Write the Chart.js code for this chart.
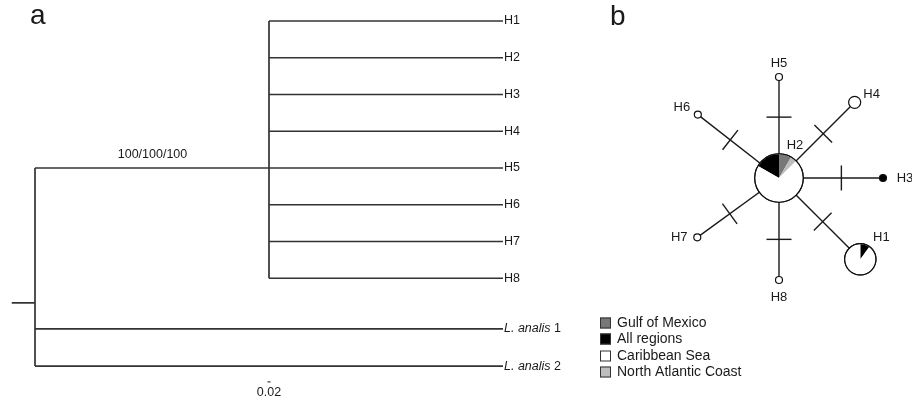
<!DOCTYPE html>
<html>
<head>
<meta charset="utf-8">
<script src="https://cdn.jsdelivr.net/npm/chart.js@4.4.1/dist/chart.umd.min.js"></script>
<style>
  html, body { margin: 0; padding: 0; background: #fff; }
  #wrap { width: 912px; height: 404px; }
</style>
</head>
<body>
<div id="wrap"><canvas id="fig" width="912" height="404"></canvas></div>
<script>
// ---- panel a: tree ----
const ingroupTips = ["H1", "H2", "H3", "H4", "H5", "H6", "H7", "H8"];
const outgroupTips = ["L. analis 1", "L. analis 2"];
const stemLength = 1.56;      // root -> ingroup node
const tipLength = 1.56;       // ingroup node -> H tips
const outgroupLength = 3.12;  // root -> L. analis tips
const supportLabel = "100/100/100";
const scaleBarLength = 0.02;

// ---- panel b: haplotype network ----
const haplotypes = ["H1", "H2", "H3", "H4", "H5", "H6", "H7", "H8"];
const regions = ["Gulf of Mexico", "All regions", "Caribbean Sea", "North Atlantic Coast"];
const gulfCounts  = [0, 4, 0, 0, 0, 0, 0, 0];
const allCounts   = [2, 8, 1, 0, 0, 0, 0, 0];
const caribCounts = [18, 34, 0, 3, 1, 1, 1, 1];
const northCounts = [0, 2, 0, 0, 0, 0, 0, 0];
// every haplotype hangs off H2 by one mutation
const spokeAngles  = [-45, 0, 0, 45, 90, 142, -144, -90];
const spokeLengths = [115, 0, 104, 107, 101, 103, 101, 102];
const mutations    = [1, 0, 1, 1, 1, 1, 1, 1];

// colours / styles
const regionColors = ["#777777", "#000000", "#ffffff", "#bdbdbd"];
const treeColor = "#333";
const netColor = "#1a1a1a";
const textColor = "#1a1a1a";
const FONT = "'Liberation Sans', Arial, sans-serif";

// layout helpers (tree rows, px-per-unit)
const treePx = 150, treeX0 = 35;
const rowPx = 36.75, rowY0 = 21;
const outgroupRows = [8.38, 9.39];
const rootRow = 7.67;
const hubIndex = 1;

const datasets = [];
function seg(pts, axes, color, width) {
  datasets.push({
    type: "scatter", data: pts, showLine: true, pointRadius: 0,
    borderColor: color, borderWidth: width, order: 2,
    xAxisID: axes[0], yAxisID: axes[1]
  });
}

// tree segments
const nodeRow = Math.floor(ingroupTips.length / 2);
seg([{ x: -0.155, y: rootRow }, { x: 0, y: rootRow }], ["xt", "yt"], treeColor, 1.7);
seg([{ x: 0, y: nodeRow }, { x: 0, y: outgroupRows[1] }], ["xt", "yt"], treeColor, 1.7);
seg([{ x: 0, y: nodeRow }, { x: stemLength, y: nodeRow }], ["xt", "yt"], treeColor, 1.7);
seg([{ x: stemLength, y: 0 }, { x: stemLength, y: ingroupTips.length - 1 }], ["xt", "yt"], treeColor, 1.7);
ingroupTips.forEach((t, i) => {
  seg([{ x: stemLength, y: i }, { x: stemLength + tipLength, y: i }], ["xt", "yt"], treeColor, 1.7);
});
outgroupTips.forEach((t, i) => {
  seg([{ x: 0, y: outgroupRows[i] }, { x: outgroupLength, y: outgroupRows[i] }], ["xt", "yt"], treeColor, 1.7);
});
// scale bar
seg([{ x: stemLength - scaleBarLength / 2, y: 9.82 }, { x: stemLength + scaleBarLength / 2, y: 9.82 }], ["xt", "yt"], treeColor, 1.2);

// network geometry
const hapTotals = haplotypes.map((h, i) => gulfCounts[i] + allCounts[i] + caribCounts[i] + northCounts[i]);
const hapRadius = hapTotals.map(n => 3.5 * Math.sqrt(n));
const hapPos = haplotypes.map((h, i) => {
  const a = spokeAngles[i] * Math.PI / 180;
  return { x: spokeLengths[i] * Math.cos(a), y: spokeLengths[i] * Math.sin(a) };
});

haplotypes.forEach((h, i) => {
  if (i === hubIndex) return;
  const p = hapPos[i];
  seg([{ x: 0, y: 0 }, p], ["xn", "yn"], netColor, 1.4);
  // mutation hatch at the middle of the visible edge
  const a = spokeAngles[i] * Math.PI / 180;
  const r0 = hapRadius[hubIndex], r1 = spokeLengths[i] - hapRadius[i];
  for (let m = 0; m < mutations[i]; m++) {
    const d = r0 + (r1 - r0) * (m + 1) / (mutations[i] + 1);
    const cx = d * Math.cos(a), cy = d * Math.sin(a);
    const nx = -Math.sin(a) * 12.5, ny = Math.cos(a) * 12.5;
    seg([{ x: cx - nx, y: cy - ny }, { x: cx + nx, y: cy + ny }], ["xn", "yn"], netColor, 1.4);
  }
});

// haplotype circles
datasets.push({
  type: "scatter", order: 0, xAxisID: "xn", yAxisID: "yn",
  data: hapPos,
  pointRadius: hapRadius,
  pointHoverRadius: hapRadius,
  pointBackgroundColor: haplotypes.map((h, i) => allCounts[i] === hapTotals[i] ? "#000" : "#fff"),
  pointBorderColor: "#111",
  pointBorderWidth: 1.2
});

// pie wedges, order of drawing: All, Gulf, North, Carib
const pieStart = { H1: -90, H2: -150 };
const pieOrder = [
  { counts: allCounts, color: regionColors[1] },
  { counts: gulfCounts, color: regionColors[0] },
  { counts: northCounts, color: regionColors[3] },
  { counts: caribCounts, color: regionColors[2] }
];

const netLabelOffsets = {
  H1: [21, -22], H2: [16, -33], H3: [22, 0], H4: [17, -8],
  H5: [0, -14], H6: [-16, -7], H7: [-18, 0], H8: [0, 17]
};

const figurePlugin = {
  id: "figure",
  afterDatasetsDraw(chart) {
    const ctx = chart.ctx;
    const xn = chart.scales.xn, yn = chart.scales.yn;
    ctx.save();
    haplotypes.forEach((h, i) => {
      const total = hapTotals[i];
      const mixed = pieOrder.filter(p => p.counts[i] > 0).length > 1;
      if (!mixed) return;
      const px = xn.getPixelForValue(hapPos[i].x), py = yn.getPixelForValue(hapPos[i].y);
      let ang = pieStart[h] * Math.PI / 180;
      pieOrder.forEach(p => {
        const v = p.counts[i];
        if (!v) return;
        const sweep = v / total * Math.PI * 2;
        ctx.beginPath();
        ctx.moveTo(px, py);
        ctx.arc(px, py, hapRadius[i] - 0.5, ang, ang + sweep);
        ctx.closePath();
        ctx.fillStyle = p.color;
        ctx.fill();
        ang += sweep;
      });
      ctx.beginPath();
      ctx.arc(px, py, hapRadius[i], 0, Math.PI * 2);
      ctx.strokeStyle = "#111";
      ctx.lineWidth = 1.2;
      ctx.stroke();
    });
    ctx.restore();
  },
  afterDraw(chart) {
    const ctx = chart.ctx;
    const xt = chart.scales.xt, yt = chart.scales.yt;
    const xn = chart.scales.xn, yn = chart.scales.yn;
    ctx.save();
    ctx.fillStyle = textColor;
    ctx.textBaseline = "middle";

    // panel letters
    ctx.font = "28px " + FONT;
    ctx.textAlign = "left";
    ctx.fillText("a", 30, 16);
    ctx.fillText("b", 610, 17);

    // tip labels
    ctx.font = "12.5px " + FONT;
    const tipX = xt.getPixelForValue(stemLength + tipLength) + 1;
    ingroupTips.forEach((t, i) => ctx.fillText(t, tipX, yt.getPixelForValue(i)));
    const outX = xt.getPixelForValue(outgroupLength) + 1;
    outgroupTips.forEach((t, i) => {
      const y = yt.getPixelForValue(outgroupRows[i]);
      const parts = t.split(" ");
      const num = " " + parts.pop();
      const name = parts.join(" ");
      ctx.font = "italic 12.5px " + FONT;
      ctx.fillText(name, outX, y);
      const w = ctx.measureText(name).width;
      ctx.font = "12.5px " + FONT;
      ctx.fillText(num, outX + w, y);
    });

    // support value and scale bar label
    ctx.textAlign = "center";
    ctx.fillText(supportLabel, xt.getPixelForValue(stemLength / 2) + 0.5, yt.getPixelForValue(nodeRow) - 13);
    ctx.fillText(String(scaleBarLength), xt.getPixelForValue(stemLength), yt.getPixelForValue(9.82) + 11);

    // haplotype labels
    ctx.font = "13px " + FONT;
    haplotypes.forEach((h, i) => {
      const o = netLabelOffsets[h];
      ctx.fillText(h, xn.getPixelForValue(hapPos[i].x) + o[0], yn.getPixelForValue(hapPos[i].y) + o[1]);
    });

    // legend
    ctx.font = "14px " + FONT;
    ctx.textAlign = "left";
    const lx = 600, ly = [323, 339, 356, 372];
    regions.forEach((r, i) => {
      ctx.fillStyle = regionColors[i];
      ctx.fillRect(lx, ly[i] - 5.5, 11, 11);
      ctx.strokeStyle = "#333";
      ctx.lineWidth = 1;
      ctx.strokeRect(lx + 0.5, ly[i] - 5, 10, 10);
      ctx.fillStyle = textColor;
      ctx.fillText(r, lx + 17, ly[i]);
    });
    ctx.restore();
  }
};

new Chart(document.getElementById("fig"), {
  type: "scatter",
  data: { datasets },
  options: {
    responsive: false,
    animation: false,
    devicePixelRatio: 1,
    layout: { padding: 0, autoPadding: false },
    events: [],
    plugins: { legend: { display: false }, tooltip: { enabled: false } },
    scales: {
      xt: { type: "linear", display: false, min: -treeX0 / treePx, max: (912 - treeX0) / treePx },
      yt: { type: "linear", display: false, reverse: true, min: -rowY0 / rowPx, max: (404 - rowY0) / rowPx },
      xn: { type: "linear", display: false, min: -779, max: 133 },
      yn: { type: "linear", display: false, min: -226, max: 178 }
    }
  },
  plugins: [figurePlugin]
});
</script>
</body>
</html>
